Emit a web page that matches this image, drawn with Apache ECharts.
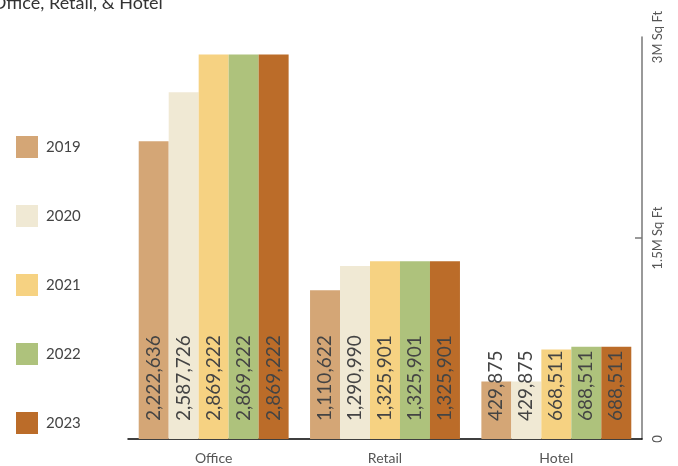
<!DOCTYPE html>
<html>
<head>
<meta charset="utf-8">
<script src="https://cdn.jsdelivr.net/npm/echarts@6/dist/echarts.min.js"></script>
<style>html,body{margin:0;padding:0;background:#fff;}#c{width:678px;height:466px;}</style>
</head>
<body>
<div id="c"></div>
<script>
const categories = ['Office', 'Retail', 'Hotel'];
const years = ['2019', '2020', '2021', '2022', '2023'];
const v2019 = [2222636, 1110622, 429875];
const v2020 = [2587726, 1290990, 429875];
const v2021 = [2869222, 1325901, 668511];
const v2022 = [2869222, 1325901, 688511];
const v2023 = [2869222, 1325901, 688511];
const colors = ['#D4A676', '#F0E9D4', '#F6D282', '#AEC27C', '#BB6C29'];
const yTickValues = [0, 1500000, 3000000];
const yTickLabels = ['0', '1.5M Sq Ft', '3M Sq Ft'];
const seriesValues = [v2019, v2020, v2021, v2022, v2023];
const FONT = 'Lato';

const chart = echarts.init(document.getElementById('c'));
chart.setOption({
  animation: false,
  textStyle: { fontFamily: FONT },
  title: {
    text: 'Office, Retail, & Hotel',
    left: -13, top: -11,
    textStyle: { fontFamily: FONT, fontSize: 18, fontWeight: 'normal', color: '#333' }
  },
  legend: {
    orient: 'vertical', left: 16, top: 136, padding: 0,
    itemWidth: 22, itemHeight: 22, itemGap: 47,
    icon: 'rect',
    data: years,
    textStyle: { fontFamily: FONT, fontSize: 15, color: '#444', padding: [0, 0, 0, 3] }
  },
  grid: { left: 128, right: 36, top: 37, bottom: 27 },
  xAxis: {
    type: 'category',
    data: categories,
    axisLine: { lineStyle: { color: '#000', width: 1.5 } },
    axisTick: { show: false },
    axisLabel: { fontFamily: FONT, fontSize: 14, color: '#555', margin: 12 }
  },
  yAxis: {
    type: 'value',
    position: 'right',
    min: 0, max: 3000000, interval: 1500000,
    splitLine: { show: false },
    axisLine: { show: true, lineStyle: { color: '#777', width: 1.5 } },
    axisTick: { show: false },
    axisLabel: {
      rotate: 90, margin: 9, fontFamily: FONT, fontSize: 13, color: '#555',
      formatter: function (v) { const i = yTickValues.indexOf(v); return i >= 0 ? yTickLabels[i] : ''; }
    }
  },
  series: years.map(function (y, i) {
    return {
      name: y,
      type: 'bar',
      data: seriesValues[i],
      barGap: '0%',
      barCategoryGap: '12.5%',
      itemStyle: { color: colors[i] },
      label: {
        show: true,
        position: 'insideBottom',
        distance: 18,
        rotate: 90,
        align: 'left',
        verticalAlign: 'middle',
        fontFamily: FONT,
        fontSize: 19,
        color: '#444',
        formatter: function (p) { return p.value.toLocaleString('en-US'); }
      }
    };
  })
});

// single axis tick at the middle value (1.5M), placed through the axis scale
const rect = chart.getModel().getComponent('grid').coordinateSystem.getRect();
const tickY = chart.convertToPixel({ yAxisIndex: 0 }, yTickValues[1]);
const axisX = rect.x + rect.width;
chart.setOption({
  graphic: [{
    type: 'line',
    shape: { x1: axisX - 7, y1: tickY, x2: axisX, y2: tickY },
    style: { stroke: '#777', lineWidth: 1.5 }
  }]
});
</script>
</body>
</html>
